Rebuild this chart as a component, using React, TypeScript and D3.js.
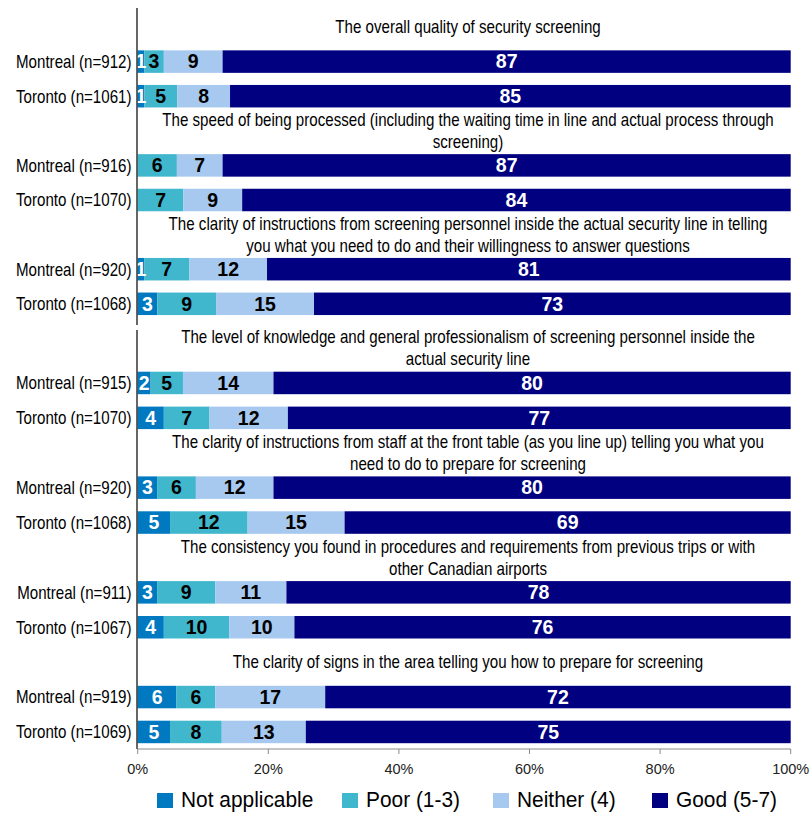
import React from "react";
import * as d3 from "d3";

// ---------- data ----------
const questions: string[][] = [
  ["The overall quality of security screening"],
  ["The speed of being processed (including the waiting time in line and actual process through", "screening)"],
  ["The clarity of instructions from screening personnel inside the actual security line in telling", "you what you need to do and their willingness to answer questions"],
  ["The level of knowledge and general professionalism of screening personnel inside the", "actual security line"],
  ["The clarity of instructions from staff at the front table (as you line up) telling you what you", "need to do to prepare for screening"],
  ["The consistency you found in procedures and requirements from previous trips or with", "other Canadian airports"],
  ["The clarity of signs in the area telling you how to prepare for screening"],
];
const montrealN = [912, 916, 920, 915, 920, 911, 919];
const torontoN = [1061, 1070, 1068, 1070, 1068, 1067, 1069];

const seriesNames = ["Not applicable", "Poor (1-3)", "Neither (4)", "Good (5-7)"];

const montrealNA = [1, 0, 1, 2, 3, 3, 6];
const montrealPoor = [3, 6, 7, 5, 6, 9, 6];
const montrealNeither = [9, 7, 12, 14, 12, 11, 17];
const montrealGood = [87, 87, 81, 80, 80, 78, 72];

const torontoNA = [1, 0, 3, 4, 5, 4, 5];
const torontoPoor = [5, 7, 9, 7, 12, 10, 8];
const torontoNeither = [8, 9, 15, 12, 15, 10, 13];
const torontoGood = [85, 84, 73, 77, 69, 76, 75];

const xTicks = [0, 20, 40, 60, 80, 100];

// ---------- styles ----------
const colors = ["#0079C1", "#40B7CD", "#A7C9EF", "#000080"];
const labelColors = ["#ffffff", "#000000", "#000000", "#ffffff"];
const FONT = "'Liberation Sans', Arial, Helvetica, sans-serif";

const W = 810;
const H = 815;

type Row = { key: string; kind: "title" | "bar"; group: number; label?: string; values?: number[] };

function buildRows(groups: number[]): Row[] {
  const rows: Row[] = [];
  groups.forEach((g) => {
    rows.push({ key: `t${g}`, kind: "title", group: g });
    rows.push({
      key: `m${g}`,
      kind: "bar",
      group: g,
      label: `Montreal (n=${montrealN[g]})`,
      values: [montrealNA[g], montrealPoor[g], montrealNeither[g], montrealGood[g]],
    });
    rows.push({
      key: `o${g}`,
      kind: "bar",
      group: g,
      label: `Toronto (n=${torontoN[g]})`,
      values: [torontoNA[g], torontoPoor[g], torontoNeither[g], torontoGood[g]],
    });
  });
  return rows;
}

function SText(props: {
  x: number;
  y: number;
  sx?: number;
  size: number;
  anchor?: string;
  weight?: string;
  fill?: string;
  children: React.ReactNode;
}) {
  const { x, y, sx = 1, size, anchor = "start", weight = "normal", fill = "#000" } = props;
  return (
    <text
      transform={`translate(${x},${y}) scale(${sx},1)`}
      fontFamily={FONT}
      fontSize={size}
      fontWeight={weight}
      textAnchor={anchor}
      fill={fill}
    >
      {props.children}
    </text>
  );
}

export default function App() {
  const x = d3.scaleLinear().domain([0, 100]).range([137.7, 790.7]);

  const panels = [
    { groups: [0, 1, 2], range: [9.7, 321.1] as [number, number], axis: [8, 325] },
    { groups: [3, 4, 5, 6], range: [330.6, 749.4] as [number, number], axis: [330, 749] },
  ];

  const barH = 22.5;
  const titleCx = 468;

  return (
    <svg
      width={W}
      height={H}
      style={{ position: "absolute", left: 0, top: 0, background: "#fff" }}
    >
      {panels.map((p, pi) => {
        const rows = buildRows(p.groups);
        const y = d3
          .scaleBand<string>()
          .domain(rows.map((r) => r.key))
          .range(p.range)
          .padding(0);
        const bw = y.bandwidth();
        return (
          <g key={pi}>
            {rows.map((r) => {
              const cy = (y(r.key) as number) + bw / 2;
              if (r.kind === "title") {
                const lines = questions[r.group];
                const lh = 22;
                const y0 = cy - ((lines.length - 1) * lh) / 2;
                return (
                  <g key={r.key}>
                    {lines.map((ln, i) => (
                      <SText key={i} x={titleCx} y={y0 + i * lh + 6.3} size={18} sx={0.84} anchor="middle">
                        {ln}
                      </SText>
                    ))}
                  </g>
                );
              }
              const vals = r.values as number[];
              const total = d3.sum(vals);
              let cum = 0;
              const segs = vals.map((v, i) => {
                const s = { i, v, x0: x((cum / total) * 100), x1: x(((cum + v) / total) * 100) };
                cum += v;
                return s;
              });
              return (
                <g key={r.key}>
                  <SText x={131.5} y={cy + 6.3} size={18} sx={0.84} anchor="end">
                    {r.label}
                  </SText>
                  {segs.map((s) =>
                    s.v > 0 ? (
                      <rect
                        key={`r${s.i}`}
                        x={s.x0}
                        y={cy - barH / 2}
                        width={s.x1 - s.x0}
                        height={barH}
                        fill={colors[s.i]}
                      />
                    ) : null
                  )}
                  {segs.map((s) =>
                    s.v > 0 ? (
                      <SText
                        key={`l${s.i}`}
                        x={(s.x0 + s.x1) / 2}
                        y={cy + 6.8}
                        size={19.5}
                        weight="bold"
                        anchor="middle"
                        fill={labelColors[s.i]}
                      >
                        {d3.format(".0f")(s.v)}
                      </SText>
                    ) : null
                  )}
                </g>
              );
            })}
            <line x1={137} x2={137} y1={p.axis[0]} y2={p.axis[1]} stroke="#000" strokeWidth={1.2} />
          </g>
        );
      })}

      {/* x axis */}
      <line x1={x(0)} x2={x(100)} y1={749} y2={749} stroke="#8a8a8a" strokeWidth={1} />
      {xTicks.map((t) => (
        <g key={t}>
          <line x1={x(t)} x2={x(t)} y1={749} y2={754} stroke="#8a8a8a" strokeWidth={1} />
          <SText x={x(t)} y={774} size={14.5} anchor="middle" fill="#222">
            {`${t}%`}
          </SText>
        </g>
      ))}

      {/* legend */}
      {seriesNames.map((name, i) => {
        const lx = [157, 342, 493, 652][i];
        return (
          <g key={name}>
            <rect x={lx} y={793} width={16} height={15} fill={colors[i]} />
            <SText x={lx + 24} y={807} size={22} sx={0.95}>
              {name}
            </SText>
          </g>
        );
      })}
    </svg>
  );
}
